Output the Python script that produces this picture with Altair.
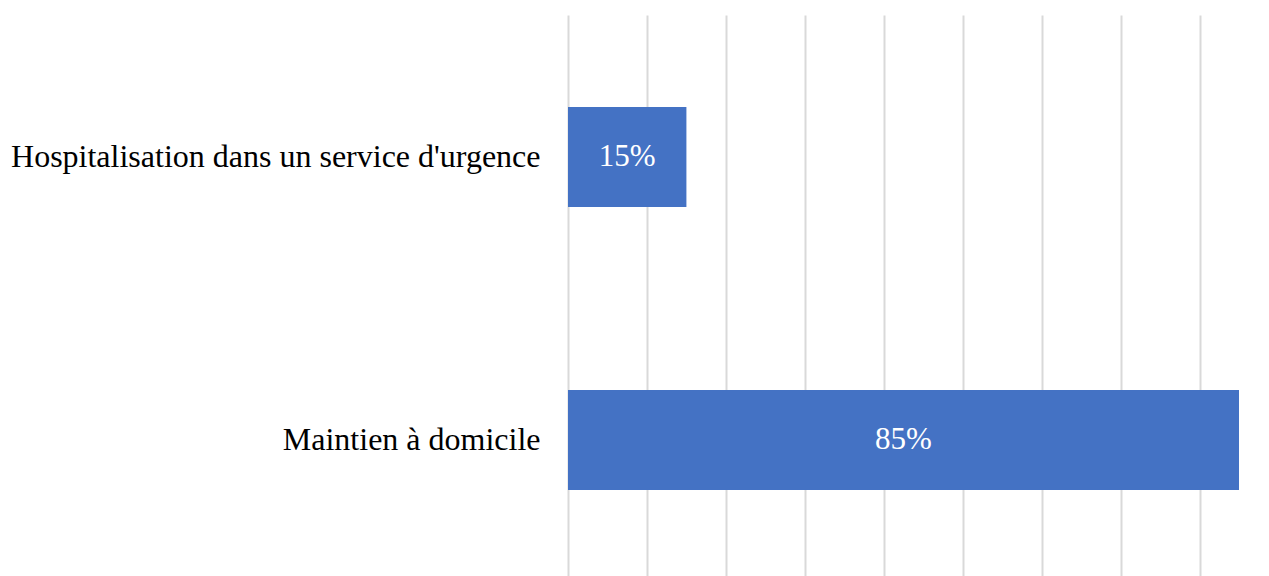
import altair as alt
import pandas as pd

categories = ["Hospitalisation dans un service d'urgence", "Maintien à domicile"]
values = [0.15, 0.85]
labels = ["15%", "85%"]
grid_ticks = [0, 0.1, 0.2, 0.3, 0.4, 0.5, 0.6, 0.7, 0.8]

df = pd.DataFrame({"cat": categories, "val": values, "lab": labels})

FONT = "Liberation Serif"
yscale = alt.Scale(paddingInner=0.647, paddingOuter=0.3147, align=0.5166)
xscale = alt.Scale(domain=[0, 0.85], nice=False, zero=True)

y_axis = alt.Axis(
    domain=False, ticks=False, grid=False,
    labelFont=FONT, labelFontSize=32, labelColor="#000000",
    labelPadding=28, labelLimit=600,
    minExtent=560, maxExtent=560,
)
x_axis = alt.Axis(
    values=grid_ticks, labels=False, ticks=False, domain=False,
    grid=True, gridColor="#d9d9d9", gridWidth=2,
)

bars = alt.Chart(df).mark_bar(color="#4472C4").encode(
    y=alt.Y("cat:N", sort=categories, title=None, scale=yscale, axis=y_axis),
    x=alt.X("val:Q", title=None, scale=xscale, axis=x_axis),
)

text = alt.Chart(df).transform_calculate(mid="datum.val / 2").mark_text(
    font=FONT, fontSize=31, color="white", baseline="middle", align="center"
).encode(
    y=alt.Y("cat:N", sort=categories, title=None, scale=yscale, axis=y_axis),
    x=alt.X("mid:Q", title=None, scale=xscale, axis=x_axis),
    text="lab:N",
)

chart = alt.layer(bars, text).properties(
    width=671, height=561,
    padding={"left": 0, "top": 7, "right": 0, "bottom": 0},
).configure(background="white").configure_view(strokeWidth=0, stroke="transparent")

chart.save("out.html", embed_options={"renderer": "svg", "actions": False})
